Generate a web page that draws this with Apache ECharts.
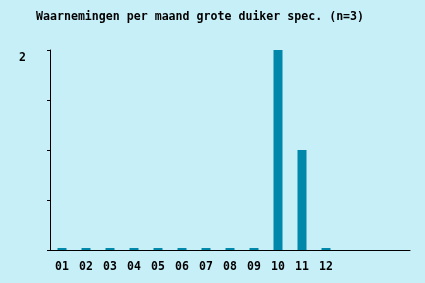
<!DOCTYPE html>
<html><head><meta charset="utf-8">
<script src="https://cdn.jsdelivr.net/npm/echarts@6/dist/echarts.min.js"></script>
<style>html,body{margin:0;padding:0;background:#c6eff8;}#c{width:425px;height:283px;}</style>
</head><body><div id="c"></div>
<script>
var title = 'Waarnemingen per maand grote duiker spec. (n=3)';
var months = ['01','02','03','04','05','06','07','08','09','10','11','12','','',''];
var counts = [0,0,0,0,0,0,0,0,0,2,1,0,null,null,null];
var yTickLabels = {2:'2'};
var chart = echarts.init(document.getElementById('c'));
var font = 'DejaVu Sans Mono';
chart.setOption({
  backgroundColor: '#c6eff8',
  animation: false,
  title: {text: title, left: 31, top: 6, textStyle: {fontFamily: font, fontWeight: 'bold', fontSize: 11.6, color: '#000'}},
  grid: {left: 50, right: 15, top: 50, bottom: 33},
  xAxis: {
    type: 'category', data: months, boundaryGap: true,
    axisLine: {lineStyle: {color: '#000', width: 1}},
    axisTick: {alignWithLabel: true, length: 3, lineStyle: {color: '#000'}, interval: function(i){return months[i] !== '';}},
    axisLabel: {fontFamily: font, fontWeight: 'bold', fontSize: 11.5, color: '#000', margin: 11, interval: 0}
  },
  yAxis: {
    type: 'value', min: 0, max: 2, interval: 0.5,
    splitLine: {show: false},
    axisLine: {show: true, lineStyle: {color: '#000', width: 1}},
    axisTick: {show: true, length: 3, lineStyle: {color: '#000'}},
    axisLabel: {fontFamily: font, fontWeight: 'bold', fontSize: 11.5, color: '#000', margin: 24,
      verticalAlign: 'top', padding: [2,0,0,0],
      formatter: function(v){return yTickLabels[v] || '';}}
  },
  series: [{
    type: 'bar', data: counts, barWidth: 9, barMinHeight: 2,
    itemStyle: {color: '#0088aa'}
  }]
});
</script></body></html>
